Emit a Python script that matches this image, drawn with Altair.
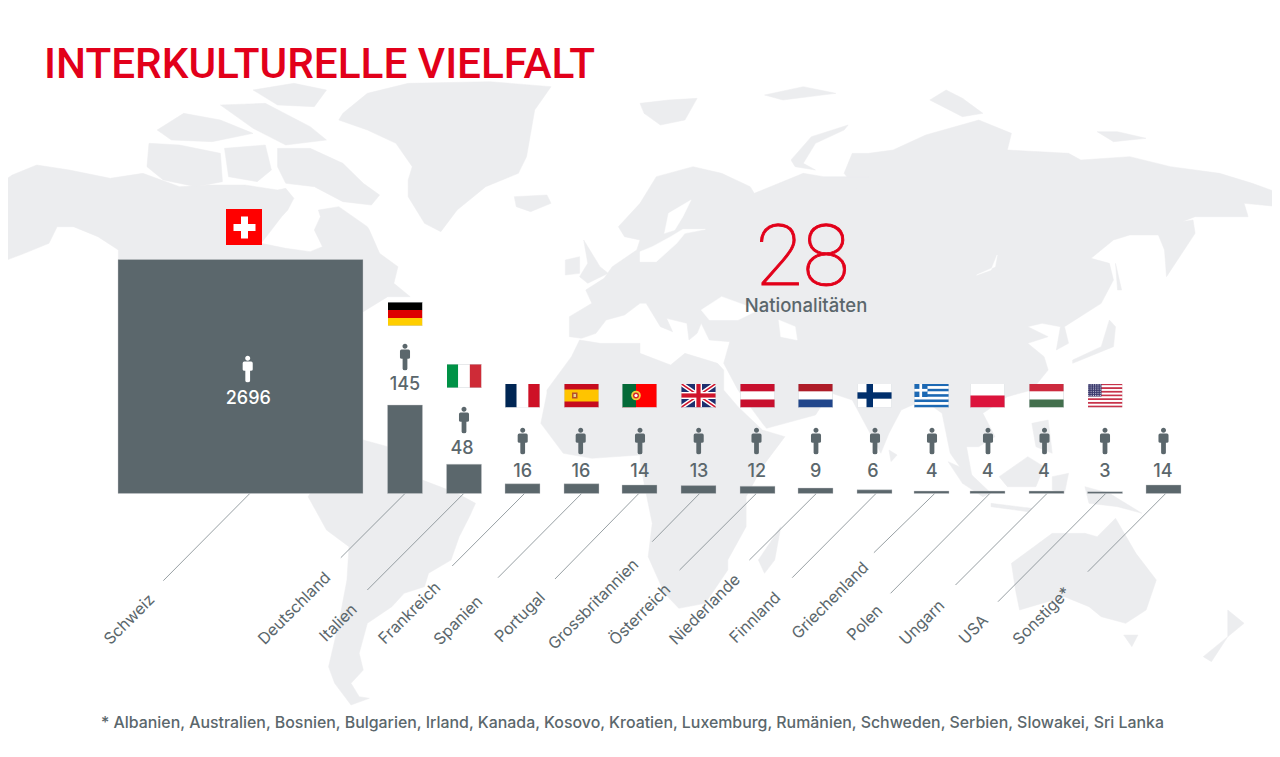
import base64
import altair as alt
import pandas as pd

# ---- chart values -------------------------------------------------------
countries = ["Schweiz", "Deutschland", "Italien", "Frankreich", "Spanien", "Portugal",
             "Grossbritannien", "Österreich", "Niederlande", "Finnland", "Griechenland",
             "Polen", "Ungarn", "USA", "Sonstige*"]
counts = [2696, 145, 48, 16, 16, 14, 13, 12, 9, 6, 4, 4, 4, 3, 14]
title_text = "INTERKULTURELLE VIELFALT"
big_number = "28"
big_caption = "Nationalitäten"
footnote = ("* Albanien, Australien, Bosnien, Bulgarien, Irland, Kanada, Kosovo, Kroatien, Luxemburg, "
            "Rumänien, Schweden, Serbien, Slowakei, Sri Lanka")

# ---- layout (page pixels) -----------------------------------------------
bar_x = [240.5, 405, 464, 522.5, 581.5, 639.5, 698.5, 757.5, 815.5, 874.5, 931.5, 987.5, 1046.5, 1105, 1163.5]
bar_w = [245] + [35] * 14
person_x = [247.7, 405, 464, 522.7, 580.7, 640, 698.7, 756.5, 816, 875, 932, 988, 1044.5, 1105, 1163.5]
person_y = [369, 357, 420] + [441] * 12
num_x = [248.3, 405, 462, 522.7, 581, 640, 699, 756.7, 815.7, 873, 931.7, 987.7, 1044, 1105, 1163]
num_y = [404, 390, 453.5] + [476.7] * 12
flag_y = [227, 314, 376] + [395.5] * 11
lead_x0 = [249.8, 405, 463.7, 524.5, 581.6, 638.8, 699.6, 756.3, 816.3, 876, 934.7, 989.8, 1047, 1105.7, 1165.7]
lead_x1 = [163.3, 340.8, 367.3, 452.2, 498, 555, 652.2, 679.6, 749.4, 792.2, 873.9, 890.6, 955.5, 998, 1087.8]
lead_y1 = [580.7, 557.7, 590, 566, 577.7, 579, 541.7, 570, 560, 577.7, 552.7, 593.3, 585, 601.7, 571.7]
name_x = [152, 328, 354.5, 438, 480, 542.5, 636, 668, 737.5, 778, 866, 880, 942, 985.5, 1068]
name_y = [597, 575, 607, 585, 599, 595, 562, 587, 577, 595, 565, 608, 603, 618, 590]
baseline_px = 493.5
GREY = "#5B676C"
RED = "#E2001A"
LAND = "#ECEDEF"
W, H = 1264, 741

# ---- hand-traced world silhouette, in crop coordinates ------------------
def A(p): return [(x / 2.45, 70 + y / 3) for x, y in p]
def B(p): return [(640 + x / 2.45, 70 + y / 3) for x, y in p]
def C(p): return [(x / 2.45, 390 + y / 3) for x, y in p]
def D(p): return [(640 + x / 2.45, 390 + y / 3) for x, y in p]

land = [
    # North America
    A([(0,340),(30,315),(90,285),(170,300),(270,325),(350,310),(440,350),(510,345),(600,345),(680,360),(700,355),
       (720,385),(705,420),(690,440),(640,520),(700,535),(760,545),(790,530),(770,480),(785,440),(780,420),(830,410),
       (900,470),(905,480),(930,550),(975,590),(965,640),(1005,680),(950,680),(890,725),(700,800),(290,700),(290,540),
       (240,500),(180,470),(140,470),(120,520),(60,550),(0,578)]),
    # Arctic Canada
    A([(680,235),(760,235),(840,280),(890,340),(930,375),(910,405),(840,395),(770,350),(700,340),(680,290)]),
    A([(365,220),(440,225),(540,250),(545,335),(480,350),(400,330),(360,290)]),
    A([(620,60),(720,40),(800,60),(770,110),(680,105)]),
    A([(385,180),(450,130),(540,150),(620,190),(520,215),(420,210)]),
    A([(540,105),(650,100),(760,170),(800,210),(700,225),(620,175)]),
    A([(550,235),(650,225),(665,300),(630,335),(560,320)]),
    # Greenland, Iceland, British Isles
    A([(840,130),(900,70),(1000,40),(1200,35),(1350,50),(1310,120),(1290,260),(1270,310),(1190,350),(1120,420),
       (1080,485),(1040,460),(1000,380),(1000,330),(1010,290),(970,220),(900,180),(830,150)]),
    A([(1260,380),(1340,375),(1350,400),(1300,425),(1265,410)]),
    A([(1430,510),(1470,590),(1490,610),(1440,640),(1420,620),(1440,580)]),
    A([(1385,570),(1420,560),(1420,610),(1385,615)]),
    # South America
    C([(890,150),(950,170),(1035,270),(1120,310),(1165,340),(1150,380),(1125,440),(1105,510),(1050,550),(1040,590),
       (990,610),(960,650),(900,700),(880,790),(890,840),(860,880),(880,920),(905,925),(860,945),(820,880),(805,830),
       (830,700),(850,570),(855,470),(800,420),(755,320),(760,310),(800,200)]),
    # Eurasia
    A([(1395,740),(1395,800),(1425,805),(1460,790),(1485,750),(1530,735)]) +
    B([(0,700),(15,700),(50,770),(80,785),(65,745),(115,760),(120,810),(140,790),(150,760),(170,810),(220,815),(205,880),
       (240,960)]) +
    D([(240,0),(300,100),(310,115),(430,75),(470,0)]) +
    B([(440,960),(400,930),(345,890),(390,960),(440,960)]) +
    D([(470,10),(520,30),(590,190),(610,130),(640,60),(695,30),(740,70),(760,190),(818,290),(800,170),(830,170),
       (870,140),(840,70),(900,20),(960,0)]) +
    B([(960,960),(1000,900),(990,860),(950,820),(1000,800),(950,770),(985,760),(1030,770),(1020,840),(1050,820),
       (1040,770),(1130,700),(1160,630),(1150,580),(1105,565),(1160,510),(1200,495),(1270,495),(1285,540),(1290,620),
       (1360,490),(1355,450),(1300,460),(1275,480),(1360,440),(1490,440),(1480,400),(1568,410),(1568,370),(1500,340),
       (1420,310),(1300,290),(1200,260),(1080,270),(1050,250),(900,240),(910,190),(830,150),(700,195),(620,240),(560,250),
       (520,250),(500,310),(540,370),(590,340),(560,320),(450,320),(400,310),(300,360),(280,370),(270,350),(200,310),
       (130,290),(40,320),(0,400)]) +
    A([(1568,400),(1515,470),(1530,500),(1568,510),(1560,540),(1500,590),(1480,625),(1435,660),(1450,700)]),
    # Africa
    A([(1420,810),(1470,820),(1568,820)]) +
    B([(0,850),(75,885),(110,850),(190,880),(205,900)]) +
    D([(205,0),(240,50),(300,120),(355,140),(300,230),(260,320),(260,410),(215,510),(215,540),(160,640),(95,655),(60,610),
       (20,500),(30,400),(10,280),(0,210)]) +
    C([(1568,195),(1450,205),(1380,190),(1325,100),(1340,10)]) +
    A([(1340,960),(1400,860)]),
    # Islands
    D([(290,510),(345,410),(330,510),(305,550)]),
    D([(910,520),(1010,430),(1090,430),(1120,440),(1165,385),(1215,490),(1265,570),(1240,660),(1190,700),(1130,680),
       (1100,650),(1040,620),(930,660),(920,600)]),
    D([(1185,735),(1220,735),(1205,770)]),
    D([(1440,660),(1480,700),(1440,740)]),
    D([(1380,800),(1440,740),(1400,815)]),
    D([(755,215),(800,240),(860,310),(840,320),(790,280)]),
    D([(860,340),(960,355),(950,365),(860,350)]),
    D([(880,260),(950,200),(990,230),(970,290),(900,290)]),
    D([(1010,260),(1050,250),(1040,310),(1010,300)]),
    D([(960,100),(1000,90),(1010,190),(970,170)]),
    D([(1090,290),(1150,310),(1230,370),(1170,350),(1100,340)]),
    D([(610,180),(630,195),(615,215)]),
    B([(1060,870),(1130,830),(1150,750),(1165,770),(1160,830),(1060,880)]),
    B([(1165,580),(1180,660),(1170,660)]),
    B([(0,100),(70,90),(140,85),(110,150),(50,165),(10,130)]),
    B([(370,270),(420,200),(510,165),(500,180),(430,220),(400,280),(430,300),(380,290)]),
    B([(305,75),(400,50),(480,70),(350,90)]),
    B([(710,90),(750,60),(790,85),(840,130),(790,140)]),
    B([(1120,185),(1170,185),(1240,205),(1160,215)]),
]
water = [
    B([(150,720),(200,680),(290,720),(240,750),(170,750)]),
    B([(340,750),(380,770),(385,810),(345,800)]),
    B([(875,555),(860,600),(825,615),(870,590)]),
    B([(60,490),(70,430),(125,390),(105,440),(85,480)]),
    B([(0,575),(40,575),(90,520),(110,490),(160,478),(105,478),(75,500),(30,530),(0,545)]),
]

def collection(polys):
    return {"type": "FeatureCollection", "features": [
        {"type": "Feature", "properties": {},
         "geometry": {"type": "Polygon", "coordinates": [[list(p) for p in (poly + poly[:1])]]}}
        for poly in polys]}

def geo(polys, colour):
    return alt.Chart(alt.InlineData(values=collection(polys), format=alt.DataFormat(property="features", type="json"))
                     ).mark_geoshape(fill=colour, stroke=colour, strokeWidth=0.5)

# ---- flags ---------------------------------------------------------------
def svg_uri(w, h, body, frame="#CFD4D8"):
    svg = (f'<svg xmlns="http://www.w3.org/2000/svg" width="{w}" height="{h}" viewBox="0 0 {w} {h}">{body}'
           f'<rect x="0.25" y="0.25" width="{w-0.5}" height="{h-0.5}" fill="none" stroke="{frame}" stroke-width="0.5"/></svg>')
    return "data:image/svg+xml;base64," + base64.b64encode(svg.encode()).decode()

def r(x, y, w, h, c):
    return f'<rect x="{x}" y="{y}" width="{w}" height="{h}" fill="{c}"/>'

def hstripes(*cols):
    h = 24 / len(cols)
    return "".join(r(0, i * h, 35, h + 0.1, c) for i, c in enumerate(cols))

def vstripes(*cols):
    w = 35 / len(cols)
    return "".join(r(i * w, 0, w + 0.1, 24, c) for i, c in enumerate(cols))

uk = (r(0, 0, 35, 24, "#1D2F6F") +
      '<path d="M0 0L35 24M35 0L0 24" stroke="#fff" stroke-width="4.4"/>'
      '<path d="M0 0L35 24M35 0L0 24" stroke="#CF142B" stroke-width="1.5"/>' +
      r(14, 0, 7, 24, "#fff") + r(0, 8.5, 35, 7, "#fff") + r(15.4, 0, 4.2, 24, "#CF142B") + r(0, 9.9, 35, 4.2, "#CF142B"))
us = (hstripes(*["#C8334A", "#fff"] * 6 + ["#C8334A"]) + r(0, 0, 14, 13, "#3C3B6E") +
      "".join(f'<circle cx="{1.3 + 2.3 * i}" cy="{1.4 + 2.1 * j}" r="0.55" fill="#E4E4EE"/>'
              for i in range(6) for j in range(6)))
greece = ("".join(r(0, i * 24 / 9, 35, 24 / 9 + .05, "#1C69B4" if i % 2 == 0 else "#fff") for i in range(9)) +
          r(0, 0, 13.5, 13.5, "#1C69B4") + r(5.4, 0, 2.7, 13.5, "#fff") + r(0, 5.4, 13.5, 2.7, "#fff"))
flags = [
    hstripes("#000", "#DD0000", "#FFCE00"),
    vstripes("#009246", "#fff", "#CE2B37"),
    vstripes("#002654", "#fff", "#CE1126"),
    r(0, 0, 35, 24, "#C60B1E") + r(0, 6, 35, 12, "#FFC400") + r(8, 9, 5.5, 6, "#B5502B") + r(9.5, 10.5, 2.5, 3, "#E8D28A"),
    r(0, 0, 35, 24, "#FF0000") + r(0, 0, 14, 24, "#046A38") +
    '<circle cx="14" cy="12" r="4.8" fill="#F3D23C"/><circle cx="14" cy="12" r="3" fill="#D62828"/>'
    '<circle cx="14" cy="12" r="1.6" fill="#fff"/>',
    uk,
    hstripes("#C8102E", "#fff", "#C8102E"),
    hstripes("#AE1C28", "#fff", "#21468B"),
    r(0, 0, 35, 24, "#fff") + r(9.5, 0, 6.5, 24, "#002F6C") + r(0, 8.8, 35, 6.4, "#002F6C"),
    greece,
    hstripes("#fff", "#DC143C"),
    hstripes("#CD2A3E", "#fff", "#436F4D"),
    us,
]
swiss = svg_uri(36, 36, r(0, 0, 36, 36, "#FF0000") + r(15, 7.5, 7, 22, "#fff") + r(7.5, 15, 22, 7, "#fff"), frame="#FF0000")
flag_uris = [swiss] + [svg_uri(35, 24, b) for b in flags]

PERSON = ("M0 -1 A0.19 0.19 0 1 1 0 -0.62 A0.19 0.19 0 1 1 0 -1 Z "
          "M-0.26 -0.56 L0.26 -0.56 Q0.38 -0.56 0.38 -0.44 L0.38 0.04 Q0.38 0.14 0.24 0.14 L0.18 0.14 "
          "L0.18 0.88 Q0.18 1 0 1 Q-0.18 1 -0.18 0.88 L-0.18 0.14 L-0.24 0.14 Q-0.38 0.14 -0.38 0.04 "
          "L-0.38 -0.44 Q-0.38 -0.56 -0.26 -0.56 Z")

# ---- tables ---------------------------------------------------------------
df = pd.DataFrame({
    "country": countries, "count": counts, "bx": bar_x, "bw": bar_w,
    "px": person_x, "py": person_y, "nx": num_x, "ny": num_y,
    "lx0": lead_x0, "lx1": lead_x1, "ly1": lead_y1, "ly0": [baseline_px] * 15,
    "tx": name_x, "ty": name_y,
    "tone": ["#FFFFFF"] + [GREY] * 14,
})
fl = pd.DataFrame({"fx": bar_x[:14], "fy": flag_y, "uri": flag_uris})
fl.loc[0, "fx"] = 244

xs = alt.Scale(domain=[8, 8 + W], range=[0, W], padding=0, nice=False, zero=False)
ys = alt.Scale(domain=[8, 8 + H], range=[0, H], nice=False, zero=False)
X = lambda f: alt.X(f, scale=xs, axis=None)
Y = lambda f: alt.Y(f, scale=ys, axis=None)
FONT = "Inter"

bars = alt.Chart(df).mark_bar(color=GREY, stroke="#C9CDD0", strokeWidth=0.4).encode(
    x=X("bx:Q"),
    y=alt.Y("count:Q", axis=None,
            scale=alt.Scale(domain=[0, 145, 2696], range=[baseline_px - 8, baseline_px - 8 - 88.5, baseline_px - 8 - 234])),
    size=alt.Size("bw:Q", scale=None, legend=None),
)
leaders = alt.Chart(df).mark_rule(color="#7C868B", strokeWidth=0.8).encode(
    x=X("lx0:Q"), x2="lx1:Q", y=Y("ly0:Q"), y2="ly1:Q")
people = alt.Chart(df).mark_point(shape=PERSON, size=700, filled=True, opacity=1, strokeWidth=0).encode(
    x=X("px:Q"), y=Y("py:Q"), color=alt.Color("tone:N", scale=None, legend=None))
numbers = alt.Chart(df).mark_text(font=FONT, fontSize=18, fontWeight=500, baseline="alphabetic", align="center").encode(
    x=X("nx:Q"), y=Y("ny:Q"), text="count:Q", color=alt.Color("tone:N", scale=None, legend=None))
names = alt.Chart(df).mark_text(font=FONT, fontSize=16, color=GREY, angle=315, align="right", baseline="middle").encode(
    x=X("tx:Q"), y=Y("ty:Q"), text="country:N")
flag_small = alt.Chart(fl.iloc[1:]).mark_image(width=35, height=24).encode(x=X("fx:Q"), y=Y("fy:Q"), url="uri:N")
flag_big = alt.Chart(fl.iloc[:1]).mark_image(width=36, height=36).encode(x=X("fx:Q"), y=Y("fy:Q"), url="uri:N")

def note(text, x, y, font=FONT, **kw):
    d = pd.DataFrame({"t": [text], "x": [x], "y": [y]})
    return alt.Chart(d).mark_text(font=font, baseline="alphabetic", **kw).encode(x=X("x:Q"), y=Y("y:Q"), text="t:N")

title = note(title_text, 44, 78, font="Roboto", fontSize=42.3, fontWeight=500, color=RED, align="left")
big = note(big_number, 802.5, 285, font="Roboto", fontSize=86, fontWeight=100, color=RED, stroke=RED, strokeWidth=0.9, align="center")
caption = note(big_caption, 806, 312, fontSize=18.5, fontWeight=500, color=GREY, align="center")
foot = note(footnote, 101, 728, fontSize=15.9, fontWeight=500, color=GREY, align="left")

chart = alt.layer(
    geo(land, LAND), geo(water, "#FFFFFF"),
    leaders, bars, people, numbers, names, flag_small, flag_big, title, big, caption, foot,
).resolve_scale(y="independent").properties(
    width=W, height=H,
    projection=alt.Projection(type="identity", scale=1, translate=[-8, -8]),
    padding=0, autosize=alt.AutoSizeParams(type="none"),
    background="#FFFFFF",
).configure_view(stroke=None)

chart.save("out.html", embed_options={"renderer": "svg", "actions": False})
